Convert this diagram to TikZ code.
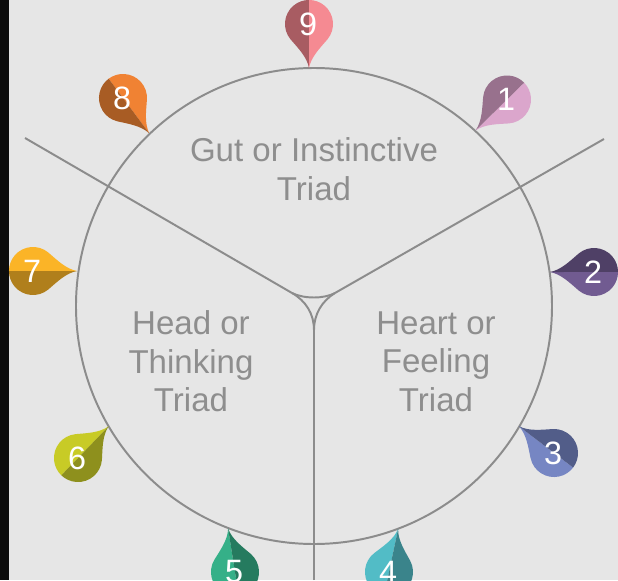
\documentclass[tikz,border=0pt]{standalone}
\usepackage{fontspec}
\setmainfont{Liberation Sans}
\usepackage{xcolor}
\usetikzlibrary{calc}
\definecolor{bgpaper}{HTML}{E6E6E6}
\definecolor{linegray}{HTML}{8C8C8C}
\definecolor{textgray}{HTML}{8E8E8E}
\definecolor{rosel}{HTML}{F58A92}
\definecolor{rosed}{HTML}{A85C62}
\definecolor{mauvel}{HTML}{DBA6CC}
\definecolor{mauved}{HTML}{98718D}
\definecolor{plumel}{HTML}{715B91}
\definecolor{plumed}{HTML}{4F4066}
\definecolor{bluel}{HTML}{7686C3}
\definecolor{blued}{HTML}{525D89}
\definecolor{tealL}{HTML}{52BCC6}
\definecolor{teald}{HTML}{3A848B}
\definecolor{jadel}{HTML}{35B088}
\definecolor{jaded}{HTML}{257B5F}
\definecolor{limel}{HTML}{C8CB26}
\definecolor{limed}{HTML}{8E901D}
\definecolor{goldl}{HTML}{FBB427}
\definecolor{goldd}{HTML}{B07F1C}
\definecolor{orangel}{HTML}{F08233}
\definecolor{oranged}{HTML}{A85C24}
\tikzset{
	triadline/.style={linegray,line width=1.4pt},
	triadlabel/.style={textgray,align=center,font=\fontsize{23.5}{27.4}\selectfont},
	pinnum/.style={white,font=\fontsize{23}{23}\selectfont}
}
% center, rotation towards the tip, light half, dark half, number
\newcommand{\pinmark}[6]{
	\begin{scope}[shift={(#2)},rotate=#3]
		\fill[#4] (44,0) .. controls (33,2) and (24,11) .. (15.4,18.4) arc (50:180:24) -- cycle;
		\fill[#5] (44,0) .. controls (33,-2) and (24,-11) .. (15.4,-18.4) arc (-50:-180:24) -- cycle;
	\end{scope}
	\node[pinnum] (#1) at ($(#2)+(-1,0)$) {#6};
}
\begin{document}
\begin{tikzpicture}[x=0.025cm,y=0.025cm]
	\useasboundingbox (-314,-274) rectangle (304,306);
	\fill[bgpaper] (-314,-274) rectangle (304,306);
	\fill[black!95] (-314,-274) rectangle (-305,306);
	% circle and the three arms
	\draw[triadline] (0,0) circle (238);
	\coordinate (left end) at (-289,168);
	\coordinate (right end) at (290,167);
	\coordinate (bottom end) at (0,-274);
	\coordinate (join l) at (-22,13);
	\coordinate (join r) at (21,13);
	\coordinate (join b) at (0,-24);
	\draw[triadline] (left end)--(join l);
	\draw[triadline] (right end)--(join r);
	\draw[triadline] (bottom end)--(join b);
	\draw[triadline] (join l) .. controls (-10,7) and (10,7) .. (join r);
	\draw[triadline] (join l) .. controls (-8,5) and (0,-8) .. (join b);
	\draw[triadline] (join r) .. controls (8,5) and (0,-8) .. (join b);
	% labels
	\node[triadlabel] (gut) at (0,137) {Gut or Instinctive\\Triad};
	\node[triadlabel] (head) at (-123,-55.5) {Head or\\Thinking\\Triad};
	\node[triadlabel] (heart) at (122,-55.5) {Heart or\\Feeling\\Triad};
	% pins
	\pinmark{pin9}{-5,282}{-90}{rosel}{rosed}{9}
	\pinmark{pin1}{193,206.5}{224.5}{mauvel}{mauved}{1}
	\pinmark{pin2}{280,34}{180}{plumel}{plumed}{2}
	\pinmark{pin3}{240,-147}{142.6}{bluel}{blued}{3}
	\pinmark{pin4}{75,-266}{78}{tealL}{teald}{4}
	\pinmark{pin5}{-79,-266}{99}{jadel}{jaded}{5}
	\pinmark{pin6}{-236,-152}{46}{limel}{limed}{6}
	\pinmark{pin7}{-281,35}{0}{goldl}{goldd}{7}
	\pinmark{pin8}{-191,208}{-53.4}{orangel}{oranged}{8}
\end{tikzpicture}
\end{document}
